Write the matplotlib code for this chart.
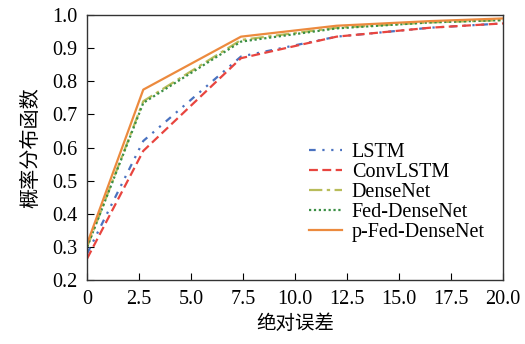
import matplotlib
matplotlib.use("Agg")
import matplotlib.pyplot as plt

plt.rcParams['font.family'] = ['Liberation Serif', 'Noto Sans CJK SC']
plt.rcParams['font.size'] = 14.5

err = [0, 2.7, 7.4, 12.0, 16.5, 20.0]
lstm = [0.28, 0.62, 0.875, 0.935, 0.962, 0.975]
convlstm = [0.265, 0.59, 0.87, 0.935, 0.962, 0.975]
densenet = [0.30, 0.74, 0.925, 0.962, 0.978, 0.985]
fed_densenet = [0.30, 0.735, 0.92, 0.96, 0.978, 0.985]
p_fed = [0.31, 0.775, 0.935, 0.968, 0.982, 0.99]

xticks = [0, 2.5, 5.0, 7.5, 10.0, 12.5, 15.0, 17.5, 20.0]
xlabels = ["0", "2.5", "5.0", "7.5", "10.0", "12.5", "15.0", "17.5", "20.0"]

fig = plt.figure(figsize=(5.25, 3.44), dpi=100)
ax = fig.add_axes([0.166, 0.186, 0.792, 0.770])

ax.plot(err, lstm, color="#4a72c0", lw=1.6, dashes=(3, 3, 1, 3, 1, 3), label="LSTM")
ax.plot(err, convlstm, color="#e8453f", lw=1.6, dashes=(4, 2), label="ConvLSTM")
ax.plot(err, densenet, color="#b8bc5a", lw=1.6, dashes=(6, 2, 1.5, 2), label="DenseNet")
ax.plot(err, fed_densenet, color="#3b8f45", lw=1.6, linestyle=(0, (1, 1.2)), label="Fed-DenseNet")
ax.plot(err, p_fed, color="#ec8a3e", lw=1.6, label="p-Fed-DenseNet")

ax.set_xlim(0, 20)
ax.set_ylim(0.2, 1.0)
ax.set_xticks(xticks)
ax.set_xticklabels(xlabels)
ax.set_yticks([0.2, 0.3, 0.4, 0.5, 0.6, 0.7, 0.8, 0.9, 1.0])
ax.tick_params(direction="in", length=5, top=False, right=False, pad=7)
for s in ax.spines.values():
    s.set_linewidth(1.0)
    s.set_color("#333333")

ax.set_xlabel("绝对误差", family=["Noto Sans CJK SC"], fontsize=14, labelpad=3)
ax.set_ylabel("概率分布函数", family=["Noto Sans CJK SC"], fontsize=14.5, labelpad=8)

ax.legend(loc="lower right", bbox_to_anchor=(0.99, 0.09), frameon=False,
          handlelength=1.6, labelspacing=0.05, handletextpad=0.5, fontsize=14.5,
          borderpad=0.2)

fig.savefig("out.png", dpi=100)
